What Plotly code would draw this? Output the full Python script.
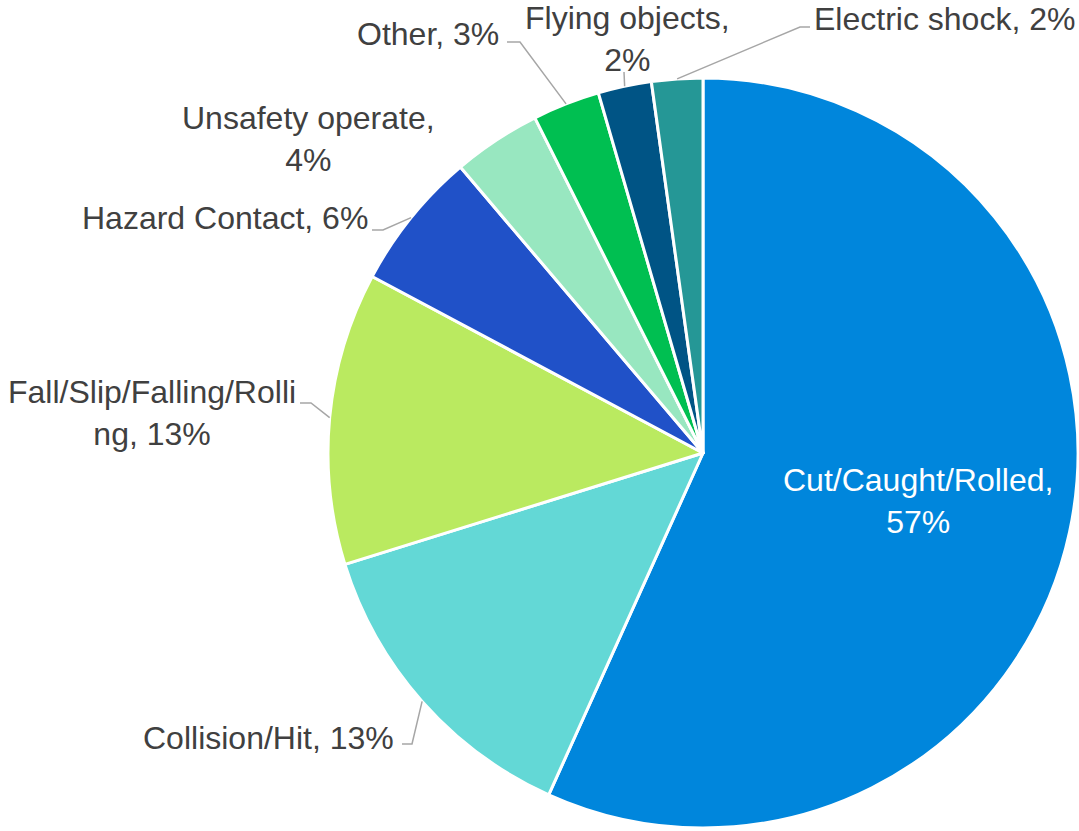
import math
import plotly.graph_objects as go

# ---- data ----
categories = ["Cut/Caught/Rolled", "Collision/Hit", "Fall/Slip/Falling/Rolling",
              "Hazard Contact", "Unsafety operate", "Other", "Flying objects", "Electric shock"]
display_names = ["Cut/Caught/Rolled,", "Collision/Hit,", "Fall/Slip/Falling/Rolli<br>ng,",
                 "Hazard Contact,", "Unsafety operate,", "Other,", "Flying objects,", "Electric shock,"]
values = [56.75, 13.45, 12.6, 6.0, 3.8, 2.9, 2.3, 2.2]
colors = ["#0086DC", "#63D8D6", "#BAEA60", "#2051C8", "#98E7C0", "#00BF51", "#005485", "#259796"]

# ---- layout geometry (pixels) ----
W, H = 1079, 831
CX, CY, R = 703, 453, 375
FONT = "Liberation Sans, Arial, sans-serif"
FS = 32
TEXT_COLOR = "#404040"
LEADER_COLOR = "#A6A6A6"

# label placement: (center x, center y, line break between name and value, leader elbow, leader end)
label_layout = [
    dict(x=918, y=501, br=True, color="white", elbow=None),
    dict(x=268, y=738, br=False, elbow=(412, 744), end=(402, 744)),
    dict(x=152, y=413, br=False, elbow=(311, 403), end=(300, 403)),
    dict(x=225, y=218, br=False, elbow=(383, 230), end=(372, 230)),
    dict(x=308, y=139, br=True, elbow=None),
    dict(x=428, y=34, br=False, elbow=(520, 42), end=(507, 42)),
    dict(x=627, y=39, br=True, elbow=(624, 72), end=None),
    dict(x=944, y=19, br=False, elbow=(800, 27), end=(810, 27)),
]

def px(x):
    return x / W

def py(y):
    return 1 - y / H

fig = go.Figure(go.Pie(
    labels=categories,
    values=values,
    sort=False,
    direction="clockwise",
    rotation=0,
    marker=dict(colors=colors, line=dict(color="white", width=3)),
    textinfo="none",
    hoverinfo="label+percent",
    showlegend=False,
    domain=dict(x=[px(CX - R), px(CX + R)], y=[py(CY + R), py(CY - R)]),
))

total = sum(values)
cum = 0.0
annotations = []
shapes = []
for i, v in enumerate(values):
    mid = (cum + v / 2) / total
    cum += v
    ang = mid * 2 * math.pi
    sx = CX + R * math.sin(ang)
    sy = CY - R * math.cos(ang)
    lay = label_layout[i]
    pct = f"{round(v / total * 100)}%"
    name = display_names[i]
    sep = "<br>" if lay["br"] else " "
    text = f"{name}{sep}{pct}"
    annotations.append(dict(
        x=px(lay["x"]), y=py(lay["y"]), xref="paper", yref="paper",
        text=text, showarrow=False, xanchor="center", yanchor="middle", align="center",
        font=dict(family=FONT, size=FS, color=lay.get("color", TEXT_COLOR)),
    ))
    if lay["elbow"] is not None:
        pts = [(sx, sy), lay["elbow"]]
        if lay.get("end") is not None:
            pts.append(lay["end"])
        path = "M " + " L ".join(f"{px(a)},{py(b)}" for a, b in pts)
        shapes.append(dict(type="path", xref="paper", yref="paper", path=path,
                           line=dict(color=LEADER_COLOR, width=1.5)))

fig.update_layout(
    width=W, height=H,
    margin=dict(l=0, r=0, t=0, b=0),
    paper_bgcolor="white",
    plot_bgcolor="white",
    annotations=annotations,
    shapes=shapes,
)

fig.write_html("out.html", config={"displayModeBar": False},
               post_script="document.body.style.margin='0';document.body.style.overflow='hidden';")
